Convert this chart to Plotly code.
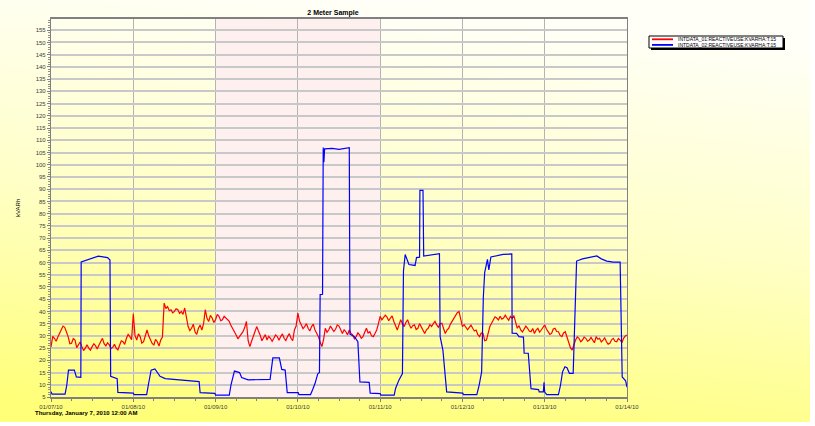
import base64
import pandas as pd
import plotly.graph_objects as go

# ── Datos ────────────────────────────────────────────────────────────────────
INICIO = pd.Timestamp("2010-01-07 00:00")

# INTDATA_01: lecturas cada 30 min (h0, h0.5, h1 ... h168)
kvarh_01 = [
    25.5, 29.8, 29, 27.8, 29.5, 31, 32.4, 34, 33.5, 31.8, 29.7, 26.8, 27, 28.9,
    28.3, 25.2, 26.3, 27.5, 25.6, 24, 25, 26.4, 25, 24.2, 25.6, 26.8, 25.9, 24.6,
    26.3, 27.4, 29, 26.8, 25.9, 27.2, 26.3, 24.8, 25.3, 26.6, 25, 24.3, 26, 28,
    27.6, 26.5, 29, 30.6, 29.7, 28.4,
    39, 30.2, 28.3, 30.8, 29.7, 27, 27.6, 29.6, 32.4, 30, 28.3, 26.9, 26.3, 28.6,
    27.6, 25.8, 28.3, 29.5,
    43.4, 41.2, 42, 40.3, 40.7, 39.4, 40, 41.1, 40.7, 39.2, 40, 38.8, 41.4, 37,
    33.8, 32.2, 33.1, 34.8, 31.7, 30.6, 33.1, 34.4, 32.4, 35,
    40.7, 37.2, 35.9, 38.4, 37.3, 35.5, 36.6, 38.8, 38, 36.2, 36.6, 38, 37.3, 36.5,
    35.9, 34.2, 33.1, 31.5, 30.4, 28.8, 29.7, 31, 31.7, 33.4, 35.9, 28, 25.6, 27.8,
    29.7, 31.5, 33.8, 32, 30.4, 28,
    29, 30.5, 28.3, 29.8, 29, 27.8, 29, 30.4, 29.7, 28.2, 29.7, 30.8, 29, 28.1,
    29.7, 30.9, 29, 28, 32.4, 34,
    39.3, 36, 34.5, 33, 33.8, 35, 33.1, 32, 33.8, 34.8, 32.4, 31, 29.7, 27.5,
    25.6, 28.5, 33.1, 31.5, 32.4, 34, 33.1, 31.8, 32.7, 34.5,
    34, 32.2, 31, 32.5, 31.7, 30.4, 32.4, 31, 30.4, 28.8, 29.7, 31.2, 30.4, 29,
    29.7, 31.5, 33.1, 31.2, 31.7, 30, 29.7, 31, 32.4, 35,
    38, 36.6, 37.7, 38.5, 37.7, 36.2, 37.3, 38.2, 35.9, 34, 32.4, 34.5, 36.6, 35,
    33.8, 35.5, 36.6, 34.6, 33.1, 34.2, 34.5, 32.6, 33.1, 35, 33.8, 32.4, 31, 32.5,
    33.1, 34.6, 33.8, 35, 35.9, 34.5, 33.5, 35, 35.2, 33, 31, 32.4, 33.1, 34.8,
    35.9, 37, 38.6, 39.5, 40, 37,
    33.8, 34.6, 33.5, 32.5, 33.5, 34.4, 33.1, 32, 32.4, 30.5, 29.7, 31.2, 31, 28,
    28.3, 31, 33.8, 35.2, 36.6, 37.8, 37.3, 36.5, 38, 36.8, 37.3, 38.5, 37.3, 36.4,
    38, 37.2, 38.3, 35,
    33.1, 34.2, 32.4, 31.6, 33.1, 34, 33.1, 32, 31.7, 33, 31, 32.4, 33.1, 31.5,
    32.4, 33.6, 34.5, 32.8, 31.7, 30.6, 31, 32.8, 33.1, 31.8, 31.7, 30.2, 29.7,
    31.2, 31.7, 29.2, 27.6, 25.2, 24.2, 26.5,
    28.3, 29.6, 29, 27.6, 28.3, 29.5, 29, 27.8, 28.3, 29.4, 28.3, 27.2, 29.7, 28.6,
    29, 27.5, 28.3, 29.2, 27.6, 26.6, 27, 28.4, 29, 27.8, 27.6, 28.9, 28.3, 27.2,
    29, 30, 30.4,
]

# INTDATA_02: puntos de quiebre (horas desde el inicio, valor)
horas_02 = [
    0, 0.3, 4.1, 4.6, 5.1, 6.8, 7.4, 8.7, 8.8, 10, 12, 13.8, 16.5, 17.2, 17.4,
    18.6, 19.3, 19.5, 24, 24.2, 27.9, 28.4, 29.2, 30.3, 31.8, 33.3, 37, 41, 43.2,
    43.5, 47.8, 48, 52, 52.5, 53.5, 55, 55.6, 57.5, 63.9, 64.7, 66.6, 67.3, 68.3,
    68.9, 72.1, 72.3, 75.7, 76.3, 77, 77.8, 78.3, 78.5, 79.2, 79.4, 79.6, 79.8,
    82, 84, 86, 87, 87.2, 88.5, 89.5, 90.1, 92.8, 93.1, 96, 96.2, 100.1, 100.5,
    101.5, 102.5, 102.8, 103.3, 104.4, 106.2, 106.6, 107.5, 107.6, 108.5, 108.7,
    111, 113.3, 113.5, 114.3, 115.4, 120.1, 120.3, 124.2, 124.9, 125.6, 126.1,
    126.5, 127.3, 127.7, 128.3, 131.9, 134.4, 134.5, 135.8, 136.5, 137.8, 138,
    139.2, 140, 142.2, 142.4, 143.6, 143.8, 144, 144.6, 148, 148.6, 149.2, 149.9,
    150.5, 151.2, 152.3, 152.7, 153.3, 155, 157, 159.2, 160.5, 162.1, 164, 166,
    166.6, 167.6, 168,
]
kvarh_02 = [
    7.2, 6.2, 6.2, 9.8, 16, 16, 13.2, 13, 60.2, 60.8, 61.8, 62.6, 62, 61, 13.5,
    13, 12.5, 6.9, 6.6, 6, 6, 10, 16, 16.5, 13.5, 12.5, 12, 11.5, 11.3,
    6.8, 6.5, 5.8, 5.8, 10, 15.6, 15, 13, 12, 12.2, 21, 21, 16.3, 16,
    6.8, 6.8, 6, 6, 8, 10.5, 14.5, 15, 46.9, 47, 107, 101, 106.5,
    106.7, 106.3, 106.8, 107, 30.7, 29.7, 27.6, 11.2, 11, 6.6, 6.4, 5.8, 5.8, 8.5,
    12, 14.6, 56.5, 63.3, 59.2, 58.8, 62, 62.2, 89.5, 89.5, 62.6,
    63, 63.6, 29.7, 24.2, 7.1, 6.6, 6, 6, 10, 15.3, 46,
    56, 61.3, 57, 62.3, 63.3, 63.5, 31.1, 31, 29.7, 29.5, 22.9,
    22.9, 8.4, 8, 7.1, 7.1, 11, 7, 6, 6, 9.8, 15.3, 17.4,
    17, 14.7, 14.7, 35, 60.6, 61.5, 62, 62.7, 61.5, 60.6, 60.2, 60.2,
    13.2, 11.6, 9,
]

NOMBRES = ["INTDATA_01:REACTIVEUSE:KVARHA:T:15", "INTDATA_02:REACTIVEUSE:KVARHA:T:15"]
COLORES = ["#ff0000", "#0000ff"]
FIN_SEMANA = ["2010-01-09", "2010-01-11"]

FUENTE = "Liberation Sans, Arial, sans-serif"
GRILLA = "#c8c8c8"

t_01 = INICIO + pd.to_timedelta([i * 0.5 for i in range(len(kvarh_01))], unit="h")
t_02 = INICIO + pd.to_timedelta(horas_02, unit="h")

# fondo degradado (svg embebido)
svg = (
    '<svg xmlns="http://www.w3.org/2000/svg" width="100" height="100" preserveAspectRatio="none">'
    '<defs><linearGradient id="g" x1="0.25" y1="1" x2="0.45" y2="0">'
    '<stop offset="0" stop-color="#ffff78"/><stop offset="0.5" stop-color="#ffffc6"/>'
    '<stop offset="1" stop-color="#fffff8"/></linearGradient></defs>'
    '<rect width="100" height="100" fill="url(#g)"/></svg>'
)
svg_uri = "data:image/svg+xml;base64," + base64.b64encode(svg.encode()).decode()

W, H = 815, 426
ML, MR, MT, MB = 51, 188, 19, 29
PW, PH = W - ML - MR, H - MT - MB


def px_x(p):
    return (p - ML) / PW


def px_y(p):
    return (H - MB - p) / PH


fig = go.Figure()
for t, v, nombre, color in [(t_01, kvarh_01, NOMBRES[0], COLORES[0]),
                            (t_02, kvarh_02, NOMBRES[1], COLORES[1])]:
    fig.add_trace(go.Scatter(x=t, y=v, mode="lines", name=nombre,
                             line=dict(color=color, width=1.2), showlegend=False))

fig.add_shape(type="rect", xref="x", yref="paper", x0=FIN_SEMANA[0], x1=FIN_SEMANA[1],
              y0=0, y1=1, fillcolor="#fff0f0", line_width=0, layer="below")

fig.add_layout_image(dict(source=svg_uri, xref="paper", yref="paper",
                          x=px_x(0), y=px_y(0), sizex=810 / PW, sizey=422 / PH,
                          xanchor="left", yanchor="top", sizing="stretch", layer="below"))

# leyenda dibujada a mano (sombra + caja + muestras)
fig.add_shape(type="rect", xref="paper", yref="paper",
              x0=px_x(651), x1=px_x(785), y0=px_y(50), y1=px_y(38),
              fillcolor="#000000", line_width=0)
fig.add_shape(type="rect", xref="paper", yref="paper",
              x0=px_x(649), x1=px_x(783), y0=px_y(48), y1=px_y(36),
              fillcolor="#ffffff", line=dict(color="#000000", width=1))
for i, (nombre, color) in enumerate(zip(NOMBRES, COLORES)):
    yy = 39.3 + i * 5.6
    fig.add_shape(type="line", xref="paper", yref="paper",
                  x0=px_x(652), x1=px_x(673), y0=px_y(yy), y1=px_y(yy),
                  line=dict(color=color, width=1.8))
    fig.add_annotation(text=nombre, xref="paper", yref="paper", x=px_x(676), y=px_y(yy),
                       xanchor="left", yanchor="middle", showarrow=False,
                       font=dict(size=5, color="#000000", family=FUENTE))

fig.add_annotation(text="<b>Thursday, January 7, 2010 12:00 AM</b>", xref="paper", yref="paper",
                   x=px_x(33), y=px_y(413), xanchor="left", yanchor="middle",
                   showarrow=False, font=dict(size=6, color="#000000", family=FUENTE))
fig.add_annotation(text="kVARh", xref="paper", yref="paper", x=px_x(18), y=0.5,
                   textangle=-90, showarrow=False, xanchor="center", yanchor="middle",
                   font=dict(size=6, color="#000000", family=FUENTE))

fig.update_layout(
    width=W, height=H,
    margin=dict(l=ML, r=MR, t=MT, b=MB),
    paper_bgcolor="#ffffff",
    plot_bgcolor="#f0fff0",
    font=dict(family=FUENTE, size=6, color="#404040"),
    title=dict(text="<b>2 Meter Sample</b>", x=px_x(333), xref="paper", xanchor="center",
               y=1 - 13 / H, yanchor="middle", font=dict(size=7, color="#000000")),
    showlegend=False,
    xaxis=dict(
        range=[INICIO, INICIO + pd.Timedelta(days=7)],
        dtick=86400000, tickformat="%m/%d/%y", tick0=INICIO,
        showgrid=True, gridcolor="#b4b4b4", gridwidth=1.2,
        showline=True, linecolor="#808080", linewidth=1.5, mirror=True,
        ticks="outside", ticklen=3, tickcolor="#808080",
        minor=dict(dtick=6 * 3600000, ticks="outside", ticklen=2, tickcolor="#808080", showgrid=False),
        tickfont=dict(size=6, color="#404040"), zeroline=False,
    ),
    yaxis=dict(
        range=[5, 159.6], dtick=5, tick0=5,
        showgrid=True, gridcolor=GRILLA, gridwidth=1.5,
        showline=True, linecolor="#808080", linewidth=1.2, mirror=True,
        ticks="outside", ticklen=3, tickcolor="#808080",
        minor=dict(dtick=1, ticks="outside", ticklen=1.5, tickcolor="#909090", showgrid=False),
        tickfont=dict(size=6, color="#404040"), zeroline=False,
    ),
)

fig.write_html("out.html", config={"displayModeBar": False},
               post_script="document.body.style.margin='0';")
